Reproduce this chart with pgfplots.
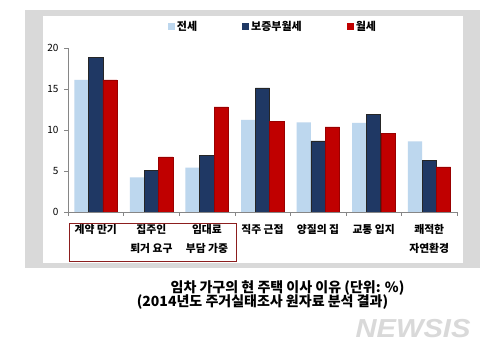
\documentclass[border=0pt]{standalone}
\usepackage{fontspec}
\setmainfont{Noto Sans CJK KR}
\newfontfamily\wm{Liberation Sans}
\usepackage{pgfplots}
\pgfplotsset{compat=1.18}
\definecolor{lb}{RGB}{189,215,238}
\definecolor{nv}{RGB}{31,56,100}
\definecolor{rd}{RGB}{192,0,0}
\definecolor{fr}{RGB}{217,217,217}
\definecolor{bx}{RGB}{140,30,30}
\definecolor{ax}{RGB}{134,134,134}
\begin{document}
\begin{tikzpicture}[x=1pt,y=1pt]
\fill[white] (0,0) rectangle (500,363);
\fill[fr] (25,95) rectangle (480,353);
\fill[white] (43,100.3) rectangle (463,347.3);
\begin{axis}[
  at={(68pt,151pt)}, anchor=south west,
  scale only axis, width=389pt, height=164.3pt,
  xmin=-0.5, xmax=6.5, ymin=0, ymax=20,
  ybar=0pt, bar width=14.3pt,
  axis x line*=bottom, axis y line*=left,
  axis line style={-, draw=ax},
  xtick={0,...,6}, major x tick style={draw=none},
  minor xtick={-0.5,0.5,...,6.5},
  xticklabels={계약 만기, 집주인\\퇴거 요구, 임대료\\부담 가중, 직주 근접, 양질의 집, 교통 입지, 쾌적한\\자연환경},
  x tick label style={align=center, anchor=north, font=\bfseries\fontsize{10.8}{19}\selectfont, yshift=-5pt},
  ytick={0,5,10,15,20},
  y tick label style={font=\fontsize{10}{10}\selectfont, xshift=-2pt},
  /pgf/number format/assume math mode=true,
  tick align=outside, major tick length=4pt, minor tick length=4pt,
  tick style={draw=ax},
  legend columns=3,
  legend style={draw=none, fill=none, at={(0.527,1.126)}, anchor=center,
    font=\bfseries\fontsize{11}{11}\selectfont,
    /tikz/every even column/.append style={column sep=43pt}},
  legend image code/.code={\fill[#1,draw=none] (0pt,-3.5pt) rectangle (7pt,3.5pt);},
]
\addplot[fill=lb, draw=none] coordinates {(0,16.07) (1,4.2) (2,5.4) (3,11.2) (4,10.9) (5,10.85) (6,8.6)};
\addplot[fill=nv, draw=black!85, line width=0.6pt] coordinates {(0,18.8) (1,5.1) (2,6.9) (3,15.1) (4,8.66) (5,11.9) (6,6.3)};
\addplot[fill=rd, draw=red!60!black, line width=0.4pt] coordinates {(0,16.07) (1,6.7) (2,12.8) (3,11.05) (4,10.36) (5,9.6) (6,5.5)};
\legend{전세, 보증부월세, 월세}
\end{axis}
\draw[bx, line width=0.7pt] (69,102) rectangle (236,140);
\node[font=\bfseries\fontsize{14}{14}\selectfont] at (287.5,75) {임차 가구의 현 주택 이사 이유 (단위: \%)};
\node[font=\bfseries\fontsize{14}{14}\selectfont] at (262.5,61) {(2014년도 주거실태조사 원자료 분석 결과)};
\node[text=gray!30, font=\wm\bfseries\itshape\fontsize{26}{26}\selectfont, xscale=1.12] at (413,34) {NEWSIS};
\end{tikzpicture}
\end{document}
